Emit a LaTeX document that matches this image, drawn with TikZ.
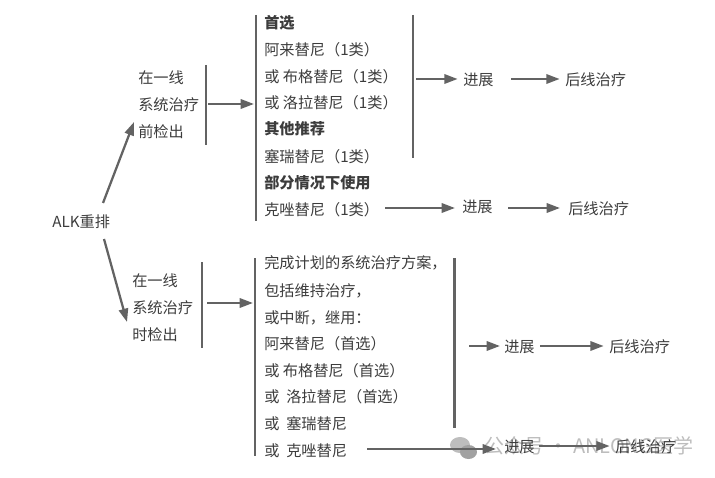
\documentclass[tikz,border=0pt]{standalone}
\usepackage{fontspec}
\setmainfont{Noto Sans CJK SC}
\usetikzlibrary{arrows.meta}
\definecolor{textgray}{HTML}{3C3C3C}
\definecolor{linegray}{HTML}{636363}
\definecolor{markgray}{HTML}{BDBDBD}
\tikzset{
    item/.style={anchor=west, inner sep=0pt, text height=9.6pt, text depth=0.2pt, font=\fontsize{11.4pt}{13pt}\selectfont, text=textgray},
    bolditem/.style={item, font=\fontsize{11.4pt}{13pt}\selectfont\bfseries},
    bar/.style={draw=linegray, line width=1.7pt},
    flow/.style={draw=linegray, line width=1.7pt, -{Triangle[length=10pt,width=7pt]}},
}
\begin{document}
\begin{tikzpicture}[x=0.75pt,y=-0.75pt]

    \useasboundingbox (0,0) rectangle (715,478);

    % watermark
    \fill[markgray] (460,445) ellipse (10 and 8);
    \fill[markgray!85!black] (468.5,452) ellipse (8.5 and 7);
    \node[item, text=markgray, font=\fontsize{15pt}{17pt}\selectfont] (mark) at (484,447) {公众号 · ANLONG医学};

    \node[item] (alk) at (52,221) {ALK重排};

    % upper branch
    \node[item] (pre1) at (138,77) {在一线};
    \node[item] (pre2) at (138,104) {系统治疗};
    \node[item] (pre3) at (138,131) {前检出};

    \node[bolditem] (a1) at (264,22) {首选};
    \node[item] (a2) at (264,49) {阿来替尼（1类）};
    \node[item] (a3) at (264,76) {或 布格替尼（1类）};
    \node[item] (a4) at (264,102) {或 洛拉替尼（1类）};
    \node[bolditem] (a5) at (264,128) {其他推荐};
    \node[item] (a6) at (264,156) {塞瑞替尼（1类）};
    \node[bolditem] (a7) at (264,182) {部分情况下使用};
    \node[item] (a8) at (264,209) {克唑替尼（1类）};

    \node[item] (prog1) at (463,79) {进展};
    \node[item] (next1) at (565,79) {后线治疗};
    \node[item] (prog2) at (462,206) {进展};
    \node[item] (next2) at (568,208) {后线治疗};

    % lower branch
    \node[item] (dur1) at (132,280) {在一线};
    \node[item] (dur2) at (132,307) {系统治疗};
    \node[item] (dur3) at (132,334) {时检出};

    \node[item] (b1) at (264,262) {完成计划的系统治疗方案，};
    \node[item] (b2) at (264,290) {包括维持治疗，};
    \node[item] (b3) at (264,317) {或中断，继用：};
    \node[item] (b4) at (264,343) {阿来替尼（首选）};
    \node[item] (b5) at (264,370) {或 布格替尼（首选）};
    \node[item] (b6) at (264,396) {或 \ 洛拉替尼（首选）};
    \node[item] (b7) at (264,423) {或 \ 塞瑞替尼};
    \node[item] (b8) at (264,450) {或 \ 克唑替尼};

    \node[item] (prog3) at (504,346) {进展};
    \node[item] (next3) at (609,346) {后线治疗};
    \node[item] (prog4) at (504,446) {进展};
    \node[item] (next4) at (615,446) {后线治疗};

    % bars
    \coordinate (bar1t) at (206,65);
    \coordinate (bar1b) at (206,145);
    \coordinate (bar2t) at (256,15);
    \coordinate (bar2b) at (256,221);
    \coordinate (bar3t) at (413,15);
    \coordinate (bar3b) at (413,158);
    \coordinate (bar4t) at (202,262);
    \coordinate (bar4b) at (202,348);
    \coordinate (bar5t) at (255,258);
    \coordinate (bar5b) at (255,456);
    \coordinate (bar6t) at (454.5,258);
    \coordinate (bar6b) at (454.5,428);

    \draw[bar] (bar1t) -- (bar1b);
    \draw[bar] (bar2t) -- (bar2b);
    \draw[bar] (bar3t) -- (bar3b);
    \draw[bar] (bar4t) -- (bar4b);
    \draw[bar] (bar5t) -- (bar5b);
    \draw[bar] (bar6t) -- (bar6b);

    % free arrow ends
    \coordinate (up0) at (103,203);
    \coordinate (up1) at (134,122);
    \coordinate (down0) at (104,239);
    \coordinate (down1) at (127,322);
    \coordinate (out1) at (208,104);
    \coordinate (in1) at (254,104);
    \coordinate (out2) at (416,79);
    \coordinate (out3) at (207,303);
    \coordinate (in3) at (253,303);
    \coordinate (out4) at (385,208);
    \coordinate (in4) at (455,208);
    \coordinate (out5) at (469,346);
    \coordinate (out6) at (367,449);
    \coordinate (in6) at (496,449);
    \coordinate (out7) at (508,208);

    \draw[flow] (up0) -- (up1);
    \draw[flow] (down0) -- (down1);
    \draw[flow] (out1) -- (in1);
    \draw[flow] (out3) -- (in3);

    \draw[flow, shorten >=4pt] (out2) -- (prog1);
    \draw[flow, shorten <=13pt, shorten >=4pt] (prog1) -- (next1);
    \draw[flow] (out4) -- (in4);
    \draw[flow, shorten >=6pt] (out7) -- (next2);
    \draw[flow, shorten >=3pt] (out5) -- (prog3);
    \draw[flow, shorten <=4pt, shorten >=4pt] (prog3) -- (next3);
    \draw[flow] (out6) -- (in6);
    \draw[flow, shorten <=3pt, shorten >=4pt] (prog4) -- (next4);

\end{tikzpicture}
\end{document}
